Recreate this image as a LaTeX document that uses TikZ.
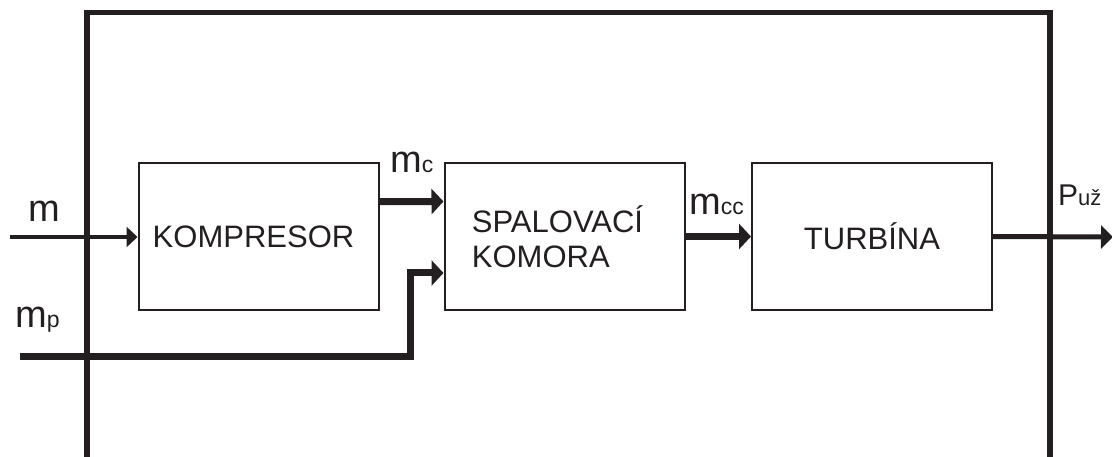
\documentclass[tikz,border=0pt]{standalone}
\usepackage{fontspec}
\setmainfont{Liberation Sans}
\usetikzlibrary{arrows.meta}
\definecolor{ink}{RGB}{35,31,32}
\begin{document}
\begin{tikzpicture}[x=1pt,y=-1pt,
  box/.style={draw=ink,line width=2pt,minimum width=240pt,minimum height=147pt,inner sep=0pt,
    font=\fontsize{31}{35}\selectfont,text=ink},
  lbl/.style={anchor=base west,inner sep=0pt,font=\fontsize{38}{38}\selectfont,text=ink},
  thin/.style={draw=ink,line width=4pt,-{Triangle[length=11pt,width=20pt]}},
  thick/.style={draw=ink,line width=7pt,line join=miter,-{Triangle[length=12pt,width=25pt]}},
  frame/.style={draw=ink,line width=5.5pt,line join=miter}]
\useasboundingbox (0,0) rectangle (1112,457);
\newcommand{\sbs}[1]{{\fontsize{23}{23}\selectfont #1}}
% frame
\draw[frame] (87,470) -- (87,12.5) -- (1050,12.5) -- (1050,470);
% boxes
\node[box] (komp) at (258.5,236.75) {KOMPRESOR\hspace*{10pt}};
\node[box,align=left] (spal) at (564.5,236.5) {SPALOVACÍ\hspace*{14pt}\\KOMORA};
\node[box] (turb) at (872,236.5) {TURBÍNA};
% free ends
\coordinate (min) at (10,237);
\coordinate (mpin) at (20,356);
\coordinate (mpbend) at (410,356);
\coordinate (pout) at (1113,237);
% connectors
\draw[thin] (min) -- (min -| komp.west);
\draw[thick] ([yshift=35pt]komp.east) -- ([yshift=35pt]spal.west);
\draw[thick] (mpin) -- (mpbend) -- (mpbend |- 0,273) -- ([yshift=-36.5pt]spal.west);
\draw[thick] (spal.east) -- (turb.west);
\draw[draw=ink,line width=5pt,-{Triangle[length=12pt,width=23pt]}] (turb.east) -- (pout);
% labels
\node[lbl] (lm) at (28,222) {m};
\node[lbl] (lmc) at (390,173) {m\sbs{c}};
\node[lbl] (lmp) at (15,327) {m\sbs{p}};
\node[lbl] (lmcc) at (689,215) {m\sbs{cc}};
\node[lbl,font=\fontsize{30}{30}\selectfont] (lp) at (1058,206) {P{\fontsize{22}{22}\selectfont už}};
\end{tikzpicture}
\end{document}
